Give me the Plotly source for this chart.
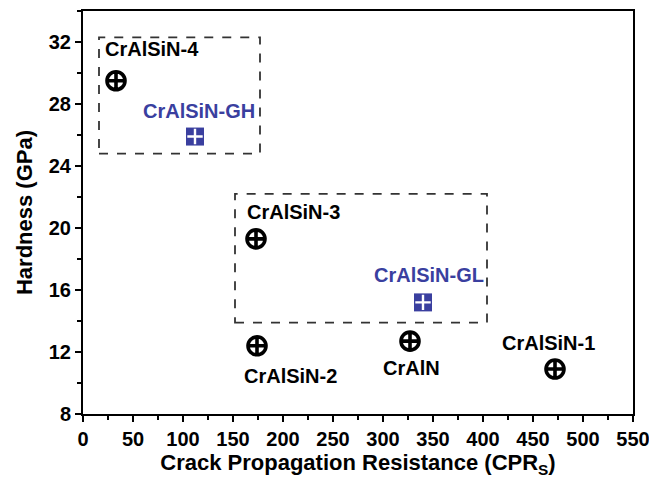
import plotly.graph_objects as go

# Reference coatings (black) and graded coatings (blue)
ref_names = ["CrAlSiN-4", "CrAlSiN-3", "CrAlSiN-2", "CrAlN", "CrAlSiN-1"]
ref_cpr = [33, 173, 174, 327, 472]
ref_hardness = [29.5, 19.3, 12.4, 12.7, 10.9]

grad_names = ["CrAlSiN-GH", "CrAlSiN-GL"]
grad_cpr = [112, 340]
grad_hardness = [25.9, 15.2]

# Dashed grouping boxes: (x0, x1, y0, y1)
group_boxes = [(16, 177, 24.8, 32.3), (152, 404, 13.9, 22.2)]

x_ticks = list(range(0, 551, 50))
y_ticks = list(range(8, 33, 4))

BLUE = "#3a3f9f"
FONT = "Liberation Sans, Arial, sans-serif"

# label offsets in pixels, relative to each marker
ref_offsets = [(36, 32), (37, 27), (33, -30), (1, -27), (-7, 26)]
grad_offsets = [(4, 26), (6, 27)]

fig = go.Figure()

fig.add_trace(go.Scatter(
    x=ref_cpr, y=ref_hardness, mode="markers",
    marker=dict(symbol="circle-cross-open", size=18, color="black",
                line=dict(width=3.6, color="black")),
    showlegend=False, hoverinfo="skip"))

fig.add_trace(go.Scatter(
    x=grad_cpr, y=grad_hardness, mode="markers",
    marker=dict(symbol="square", size=18, color=BLUE, line=dict(width=0)),
    showlegend=False, hoverinfo="skip"))
fig.add_trace(go.Scatter(
    x=grad_cpr, y=grad_hardness, mode="markers",
    marker=dict(symbol="cross-thin-open", size=11, color="white",
                line=dict(width=2.4, color="white")),
    showlegend=False, hoverinfo="skip"))

for name, x, y, (dx, dy) in zip(ref_names, ref_cpr, ref_hardness, ref_offsets):
    fig.add_annotation(x=x, y=y, text=f"<b>{name}</b>", showarrow=False,
                       xshift=dx, yshift=dy,
                       font=dict(family=FONT, size=20, color="black"))
for name, x, y, (dx, dy) in zip(grad_names, grad_cpr, grad_hardness, grad_offsets):
    fig.add_annotation(x=x, y=y, text=f"<b>{name}</b>", showarrow=False,
                       xshift=dx, yshift=dy,
                       font=dict(family=FONT, size=20, color=BLUE))

for x0, x1, y0, y1 in group_boxes:
    fig.add_shape(type="rect", x0=x0, x1=x1, y0=y0, y1=y1,
                  line=dict(color="#333333", width=1.8, dash="dash"))

axis_common = dict(
    showline=True, linecolor="black", linewidth=2, mirror=True,
    ticks="outside", ticklen=6, tickwidth=2, tickcolor="black",
    showgrid=False, zeroline=False, automargin=False,
    tickfont=dict(family=FONT, size=20, color="black"),
)

fig.update_xaxes(
    range=[0, 550], tickvals=x_ticks, ticktext=[f"<b>{v}</b>" for v in x_ticks],
    ticklabeloverflow="allow",
    minor=dict(dtick=25, ticks="outside", ticklen=4, tickwidth=1.5, tickcolor="black"),
    title=dict(text="<b>Crack Propagation Resistance (CPR<sub>S</sub>)</b>",
               font=dict(family=FONT, size=22, color="black"), standoff=6),
    **axis_common)
fig.update_yaxes(
    range=[8, 34], tickvals=y_ticks, ticktext=[f"<b>{v}</b>" for v in y_ticks],
    minor=dict(dtick=2, ticks="outside", ticklen=4, tickwidth=1.5, tickcolor="black"),
    title=dict(text="<b>Hardness (GPa)</b>",
               font=dict(family=FONT, size=22, color="black"), standoff=10),
    **axis_common)

fig.update_layout(
    width=649, height=482,
    margin=dict(l=83, r=16, t=11, b=68),
    plot_bgcolor="white", paper_bgcolor="white",
)

fig.write_html("out.html")
